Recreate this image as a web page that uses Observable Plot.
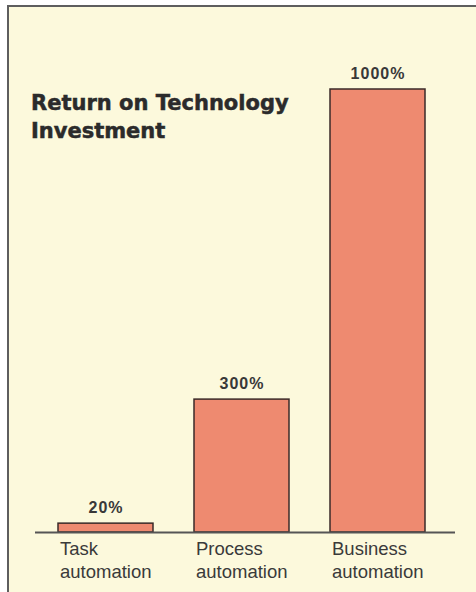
<!DOCTYPE html>
<html>
<head>
<meta charset="utf-8">
<script src="https://cdn.jsdelivr.net/npm/d3@7"></script>
<script src="https://cdn.jsdelivr.net/npm/@observablehq/plot@0.6"></script>
<style>
  html, body { margin: 0; padding: 0; background: #ffffff; width: 476px; height: 592px; overflow: hidden; }
  #panel { position: absolute; left: 7px; top: 5px; width: 520px; height: 640px;
           background: #fcf9dc; border-left: 2px solid #5e5e5e; border-top: 2px solid #5e5e5e; }
  #chart { position: absolute; left: 0; top: 0; }
  #title { position: absolute; left: 31px; top: 89px; font-family: "DejaVu Sans", sans-serif;
           font-weight: bold; font-size: 21px; line-height: 28px; color: #2b2b2b; margin: 0;
           -webkit-text-stroke: 0.5px #2b2b2b; }
  .vlabel text { letter-spacing: 1px; }
</style>
</head>
<body>
<div id="panel"></div>
<div id="chart"></div>
<h1 id="title">Return on Technology<br>Investment</h1>
<script>
const categories = ["Task automation", "Process automation", "Business automation"];
const categoryLabels = ["Task\nautomation", "Process\nautomation", "Business\nautomation"];
const values = [20, 300, 1000];
const valueLabels = ["20%", "300%", "1000%"];

const data = categories.map((c, i) => ({category: c, label: categoryLabels[i], value: values[i], text: valueLabels[i]}));

const chart = Plot.plot({
  width: 476,
  height: 592,
  marginLeft: 38,
  marginRight: 30,
  marginTop: 89,
  marginBottom: 60,
  style: {background: "transparent", fontFamily: "'Liberation Sans', Arial, sans-serif"},
  x: {domain: categories, paddingInner: 0.3, paddingOuter: 0.15},
  y: {domain: [0, 1000], axis: null},
  marks: [
    Plot.barY(data, {x: "category", y: "value", fill: "#ee8a70", stroke: "#3a2a28", strokeWidth: 1.5}),
    Plot.ruleY([0], {stroke: "#555555", strokeWidth: 1.8, insetLeft: -3, insetRight: -9}),
    Plot.text(data, {x: "category", y: "value", text: "text", dy: -16, fontSize: 16, fontWeight: "bold",
                     fill: "#383838", textAnchor: "middle", className: "vlabel"}),
    Plot.axisX({
      tickSize: 0,
      tickPadding: 6,
      fontSize: 18.5,
      lineHeight: 1.24,
      textAnchor: "start",
      dx: -46,
      fill: "#3a3a3a",
      tickFormat: (d) => categoryLabels[categories.indexOf(d)],
      label: null
    })
  ]
});
document.getElementById("chart").appendChild(chart);
</script>
</body>
</html>
